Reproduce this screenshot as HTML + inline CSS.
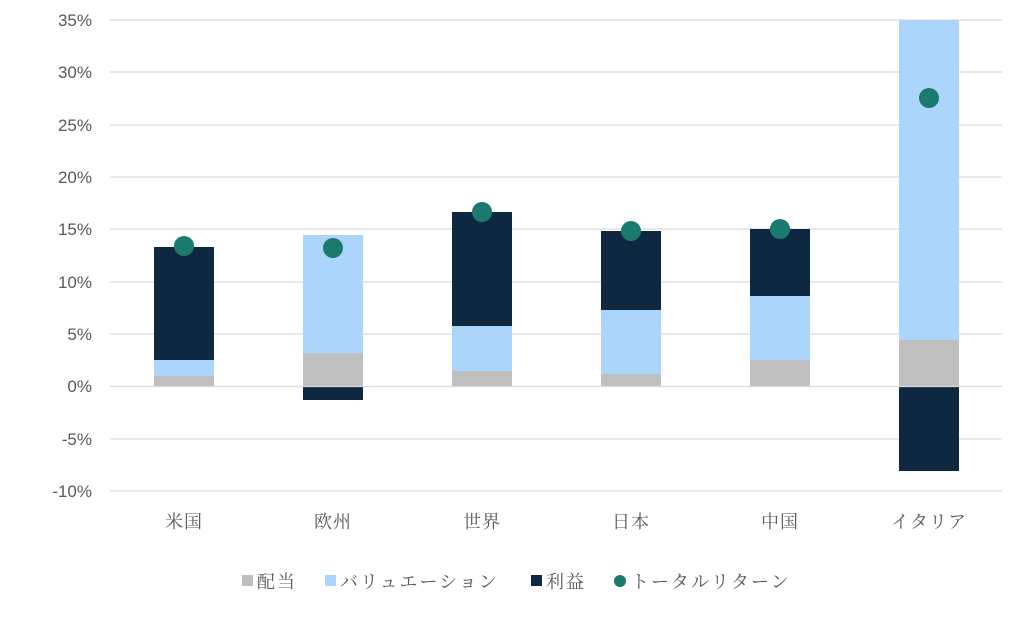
<!DOCTYPE html>
<html><head><meta charset="utf-8"><style>
body{margin:0;background:#fff}
svg text{font-family:"Liberation Sans","Noto Sans CJK JP",sans-serif;fill:#595959}
svg text.jp{font-family:"Liberation Serif","Noto Serif CJK JP","Noto Serif CJK SC",serif}
</style></head><body>
<svg width="1024" height="614" xmlns="http://www.w3.org/2000/svg">
<g stroke="#d9d9d9" stroke-width="1.3">
<line x1="110" x2="1002" y1="20" y2="20"/><line x1="110" x2="1002" y1="72" y2="72"/>
<line x1="110" x2="1002" y1="125" y2="125"/><line x1="110" x2="1002" y1="177" y2="177"/>
<line x1="110" x2="1002" y1="229" y2="229"/><line x1="110" x2="1002" y1="282" y2="282"/>
<line x1="110" x2="1002" y1="334" y2="334"/><line x1="110" x2="1002" y1="439" y2="439"/>
<line x1="110" x2="1002" y1="491" y2="491"/>
</g>
<g font-size="17" text-anchor="end">
<text x="92" y="26">35%</text><text x="92" y="78">30%</text><text x="92" y="131">25%</text>
<text x="92" y="183">20%</text><text x="92" y="235">15%</text><text x="92" y="288">10%</text>
<text x="92" y="340">5%</text><text x="92" y="392">0%</text><text x="92" y="445">-5%</text>
<text x="92" y="497">-10%</text>
</g>
<rect x="154" y="376" width="60" height="10" fill="#bfbfbf"/>
<rect x="154" y="360" width="60" height="16" fill="#acd5fb"/>
<rect x="154" y="247" width="60" height="113" fill="#0e2841"/>
<rect x="303" y="353" width="60" height="33" fill="#bfbfbf"/>
<rect x="303" y="235" width="60" height="118" fill="#acd5fb"/>
<rect x="303" y="386" width="60" height="14" fill="#0e2841"/>
<rect x="452" y="371" width="60" height="15" fill="#bfbfbf"/>
<rect x="452" y="326" width="60" height="45" fill="#acd5fb"/>
<rect x="452" y="212" width="60" height="114" fill="#0e2841"/>
<rect x="601" y="374" width="60" height="12" fill="#bfbfbf"/>
<rect x="601" y="310" width="60" height="64" fill="#acd5fb"/>
<rect x="601" y="231" width="60" height="79" fill="#0e2841"/>
<rect x="750" y="360" width="60" height="26" fill="#bfbfbf"/>
<rect x="750" y="296" width="60" height="64" fill="#acd5fb"/>
<rect x="750" y="229" width="60" height="67" fill="#0e2841"/>
<rect x="899" y="340" width="60" height="46" fill="#bfbfbf"/>
<rect x="899" y="20" width="60" height="320" fill="#acd5fb"/>
<rect x="899" y="386" width="60" height="85" fill="#0e2841"/>
<line x1="110" x2="1002" y1="386.5" y2="386.5" stroke="#d9d9d9" stroke-width="1.3"/>
<g fill="#1b7a6e">
<circle cx="184" cy="246" r="10"/><circle cx="333" cy="248" r="10"/>
<circle cx="482" cy="212" r="10"/><circle cx="631" cy="231" r="10"/>
<circle cx="780" cy="229" r="10"/><circle cx="929" cy="98" r="10"/>
</g>
<g font-size="18" text-anchor="middle" letter-spacing="1">
<text class="jp" x="184" y="528">米国</text><text class="jp" x="333" y="528">欧州</text><text class="jp" x="482" y="528">世界</text>
<text class="jp" x="631" y="528">日本</text><text class="jp" x="780" y="528">中国</text><text class="jp" x="929" y="528">イタリア</text>
</g>
<g font-size="18" letter-spacing="2">
<rect x="242" y="575" width="11" height="11" fill="#bfbfbf"/><text class="jp" x="257" y="588">配当</text>
<rect x="325" y="575" width="11" height="11" fill="#acd5fb"/><text class="jp" x="340" y="588">バリュエーション</text>
<rect x="531" y="575" width="11" height="11" fill="#0e2841"/><text class="jp" x="546" y="588">利益</text>
<circle cx="620" cy="581" r="6" fill="#1b7a6e"/><text class="jp" x="631" y="588">トータルリターン</text>
</g>
</svg>
</body></html>
